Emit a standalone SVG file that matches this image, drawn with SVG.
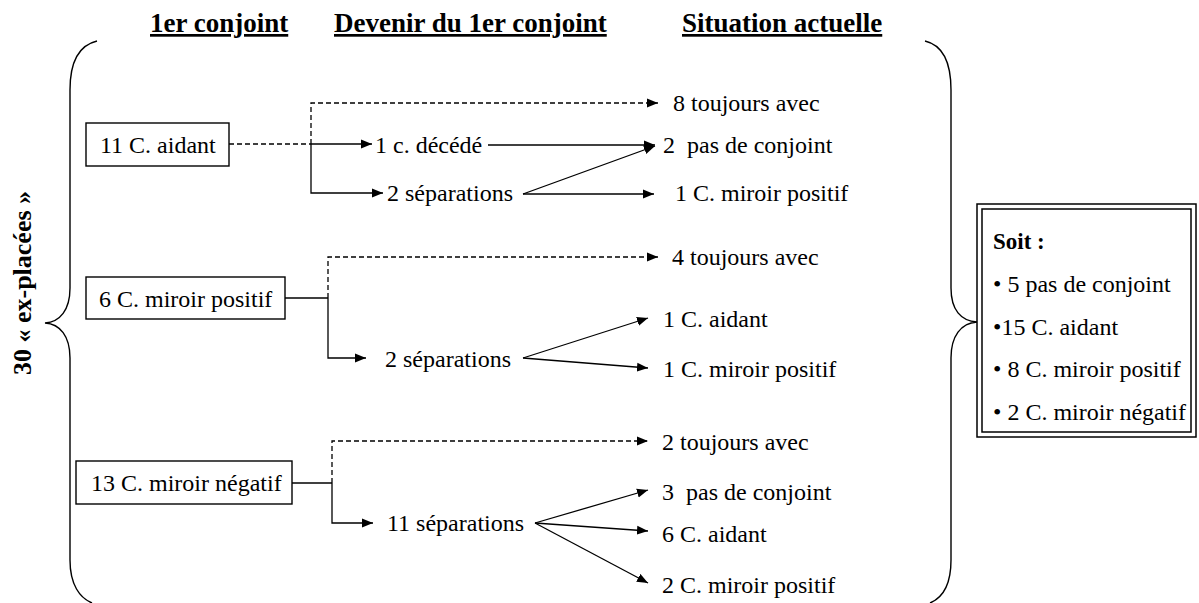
<svg xmlns="http://www.w3.org/2000/svg" width="1199" height="603" viewBox="0 0 1199 603">
<style>
text{font-family:"Liberation Serif","Times New Roman",serif;fill:#000}
.t{font-size:24px}
.h{font-size:27px;font-weight:bold;text-decoration:underline}
.b{font-weight:bold}
.box{fill:#fff;stroke:#000;stroke-width:1.4}
.ln{fill:none;stroke:#000;stroke-width:1.3}
.ds{fill:none;stroke:#000;stroke-width:1.3;stroke-dasharray:5,3}
.ar{marker-end:url(#ah)}
.br{fill:none;stroke:#000;stroke-width:1.4}
</style>
<defs>
<marker id="ah" markerUnits="userSpaceOnUse" markerWidth="11" markerHeight="10" refX="11" refY="5" orient="auto">
<path d="M0,0.5 L11,5 L0,9.5 z" fill="#000"/>
</marker>
</defs>
<rect width="1199" height="603" fill="#fff"/>
<g id="headers">
<text class="h" x="150" y="32">1er conjoint</text>
<text class="h" x="334" y="32">Devenir du 1er conjoint</text>
<text class="h" x="682" y="32">Situation actuelle</text>
</g>
<g id="braces">
<path class="br" d="M97,41 C80,45 70,60 70,90 L70,288 C70,310 60,322 45,323 C60,324 70,336 70,358 L70,560 C70,585 80,598 92,603"/>
<path class="br" d="M925,41 C942,45 951,60 951,90 L951,288 C951,310 961,321 977,322 C961,323 951,336 951,358 L951,560 C951,585 942,598 930,603"/>
<text class="t b" transform="translate(31,283) rotate(-90)" text-anchor="middle" style="font-size:26px">30 « ex-placées »</text>
</g>
<g id="connectors">
<path class="ds" d="M229,144 H311"/>
<path class="ln ar" d="M311,144 H372"/>
<path class="ds ar" d="M311,144 V103 H658"/>
<path class="ln ar" d="M311,144 V193 H383"/>
<path class="ln ar" d="M488,145 H655"/>
<path class="ln ar" d="M523,194 L655,146"/>
<path class="ln ar" d="M523,194 H654"/>
<path class="ln" d="M285,298 H328"/>
<path class="ds ar" d="M328,298 V257 H658"/>
<path class="ln ar" d="M328,298 V358 H366"/>
<path class="ln ar" d="M523,358 L648,318"/>
<path class="ln ar" d="M523,358 L648,368"/>
<path class="ln" d="M292,483 H332"/>
<path class="ds ar" d="M332,483 V441 H648"/>
<path class="ln ar" d="M332,483 V523 H373"/>
<path class="ln ar" d="M535,523 L648,490"/>
<path class="ln ar" d="M535,523 L648,531"/>
<path class="ln ar" d="M535,523 L648,583"/>
</g>
<g id="n-aidant">
<rect class="box" x="86" y="123" width="143" height="43"/>
<text class="t" x="100" y="153">11 C. aidant</text>
</g>
<g id="n-positif">
<rect class="box" x="86" y="277" width="199" height="42"/>
<text class="t" x="99" y="307">6 C. miroir positif</text>
</g>
<g id="n-negatif">
<rect class="box" x="76" y="461" width="216" height="43"/>
<text class="t" x="91" y="491">13 C. miroir négatif</text>
</g>
<g id="g1-labels">
<text class="t" x="375" y="153">1 c. décédé</text>
<text class="t" x="387" y="201">2 séparations</text>
<text class="t" x="673" y="111">8 toujours avec</text>
<text class="t" x="663" y="153" xml:space="preserve">2  pas de conjoint</text>
<text class="t" x="675" y="201">1 C. miroir positif</text>
</g>
<g id="g2-labels">
<text class="t" x="385" y="367">2 séparations</text>
<text class="t" x="672" y="265">4 toujours avec</text>
<text class="t" x="663" y="327">1 C. aidant</text>
<text class="t" x="663" y="377">1 C. miroir positif</text>
</g>
<g id="g3-labels">
<text class="t" x="387" y="531">11 séparations</text>
<text class="t" x="662" y="450">2 toujours avec</text>
<text class="t" x="662" y="500" xml:space="preserve">3  pas de conjoint</text>
<text class="t" x="662" y="542">6 C. aidant</text>
<text class="t" x="662" y="593">2 C. miroir positif</text>
</g>
<g id="summary">
<rect x="977" y="204" width="219" height="233" fill="#fff" stroke="#000" stroke-width="1.5"/>
<rect x="982" y="209" width="209" height="223" fill="none" stroke="#000" stroke-width="1.5"/>
<text class="t b" x="993" y="249" style="font-size:23px">Soit :</text>
<text class="t" x="993" y="292">• 5 pas de conjoint</text>
<text class="t" x="993" y="335">•15 C. aidant</text>
<text class="t" x="993" y="377">• 8 C. miroir positif</text>
<text class="t" x="993" y="420">• 2 C. miroir négatif</text>
</g>
</svg>
